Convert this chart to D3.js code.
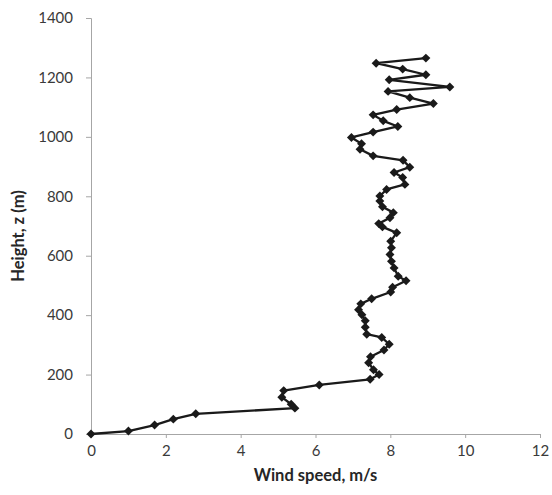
<!DOCTYPE html>
<html>
<head>
<meta charset="utf-8">
<script src="https://cdn.jsdelivr.net/npm/d3@7"></script>
<style>
  html, body { margin: 0; padding: 0; background: #fff; }
  svg { display: block; }
  .tick text { font-family: Lato, "Open Sans", sans-serif; font-size: 15px; fill: #3a3a3a; }
  .axis-title { font-family: Lato, "Open Sans", sans-serif; font-size: 16.5px; font-weight: bold; fill: #262626; }
</style>
</head>
<body>
<svg id="chart" width="552" height="495"></svg>
<script>
// Wind speed profile: speed (m/s) against height (m)
const windSpeed = [
  0, 1.0, 1.7, 2.2, 2.8, 5.45, 5.35, 5.1, 5.15, 6.1,
  7.46, 7.70, 7.55, 7.42, 7.47, 7.83, 7.97, 7.77, 7.37, 7.33,
  7.33, 7.24, 7.15, 7.21, 7.50, 8.01, 8.06, 8.42, 8.21, 8.10,
  8.03, 7.99, 8.03, 8.01, 8.17, 7.79, 7.69, 7.99, 8.08, 7.79,
  7.72, 7.72, 7.90, 8.39, 8.33, 8.10, 8.52, 8.34, 7.54, 7.19,
  7.23, 6.96, 7.54, 8.20, 7.81, 7.54, 8.17, 9.15, 8.52, 7.94,
  9.59, 7.97, 8.95, 8.33, 7.62, 8.95
];
const heights = [
  0, 10, 30, 50, 68, 87, 100, 124, 146, 165,
  184, 200, 216, 240, 260, 283, 302, 325, 336, 359,
  381, 401, 418, 438, 455, 478, 494, 516, 531, 559,
  581, 604, 627, 649, 677, 697, 708, 728, 745, 765,
  784, 801, 823, 840, 863, 880, 898, 921, 936, 958,
  977, 998, 1016, 1035, 1054, 1074, 1092, 1112, 1132, 1153,
  1168, 1192, 1209, 1228, 1248, 1265
];
const xTicks = [0, 2, 4, 6, 8, 10, 12];
const yTicks = [0, 200, 400, 600, 800, 1000, 1200, 1400];

const points = windSpeed.map((v, i) => ({ v, h: heights[i] }));

const svg = d3.select("#chart");
const margin = { left: 91, right: 12, top: 18, bottom: 61 };
const W = 552, H = 495;

const x = d3.scaleLinear().domain([0, 12]).range([margin.left, W - margin.right]);
const y = d3.scaleLinear().domain([0, 1400]).range([H - margin.bottom, margin.top]);

const axisColor = "#a6a6a6";

// x axis
const gx = svg.append("g")
  .attr("transform", `translate(0,${y(0)})`)
  .call(d3.axisBottom(x).tickValues(xTicks).tickSize(4).tickPadding(7).tickFormat(d3.format("d")));
gx.select(".domain").attr("stroke", axisColor);
gx.selectAll(".tick line").attr("stroke", axisColor);

// y axis
const gy = svg.append("g")
  .attr("transform", `translate(${x(0)},0)`)
  .call(d3.axisLeft(y).tickValues(yTicks).tickSize(5).tickPadding(13).tickFormat(d3.format("d")));
gy.select(".domain").attr("stroke", axisColor);
gy.selectAll(".tick line").attr("stroke", axisColor);

// profile line
const line = d3.line().x(d => x(d.v)).y(d => y(d.h));
svg.append("path")
  .datum(points)
  .attr("fill", "none")
  .attr("stroke", "#1a1a1a")
  .attr("stroke-width", 2.3)
  .attr("stroke-linejoin", "round")
  .attr("d", line);

// diamond markers
const diamond = d3.symbol(d3.symbolSquare, 40);
svg.append("g")
  .selectAll("path")
  .data(points)
  .join("path")
  .attr("d", diamond)
  .attr("transform", d => `translate(${x(d.v)},${y(d.h)}) rotate(45)`)
  .attr("fill", "#1a1a1a");

// axis titles
svg.append("text")
  .attr("class", "axis-title")
  .attr("x", (x(0) + x(12)) / 2)
  .attr("y", 481)
  .attr("text-anchor", "middle")
  .text("Wind speed, m/s");

svg.append("text")
  .attr("class", "axis-title")
  .attr("transform", `translate(24,${(y(0) + y(1400)) / 2 + 10}) rotate(-90)`)
  .attr("text-anchor", "middle")
  .text("Height, z (m)");
</script>
</body>
</html>
